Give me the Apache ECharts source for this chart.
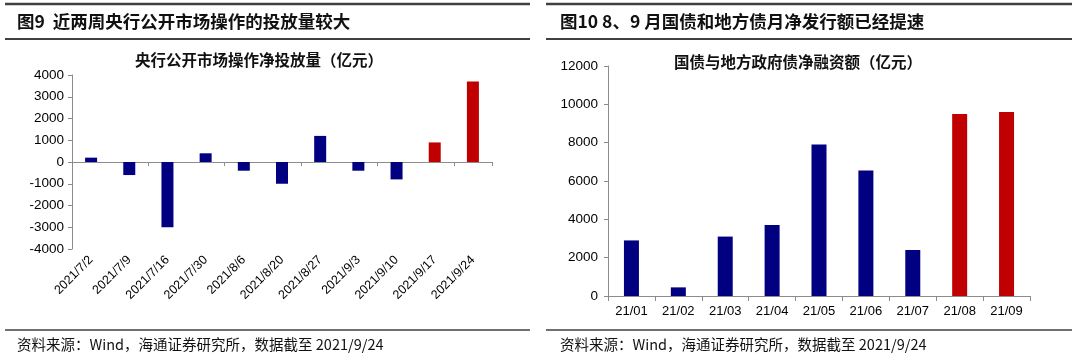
<!DOCTYPE html>
<html><head><meta charset="utf-8">
<script src="https://cdn.jsdelivr.net/npm/echarts@6/dist/echarts.min.js"></script>
<style>html,body{margin:0;padding:0;background:#fff}#c{width:1080px;height:357px}</style>
</head><body><div id="c"></div>
<script>
var leftCats = ['2021/7/2','2021/7/9','2021/7/16','2021/7/30','2021/8/6','2021/8/20','2021/8/27','2021/9/3','2021/9/10','2021/9/17','2021/9/24'];
var leftVals = [200,-600,-3000,400,-400,-1000,1200,-400,-800,900,3700];
var leftRed = [false,false,false,false,false,false,false,false,false,true,true];
var rightCats = ['21/01','21/02','21/03','21/04','21/05','21/06','21/07','21/08','21/09'];
var rightVals = [2900,450,3100,3700,7900,6550,2400,9500,9600];
var rightRed = [false,false,false,false,false,false,false,true,true];

var NAVY = '#000080', RED = '#C00000';
function colored(vals, red){ return vals.map(function(v,i){ return {value:v, itemStyle:{color: red[i]?RED:NAVY}}; }); }

var chart = echarts.init(document.getElementById('c'));
var axisC = '#8c8c8c';
var FF = 'Liberation Sans, Arial, sans-serif';
var titleFont = 'Noto Sans CJK SC';
function plain(v){ return String(v); }

function hline(x1,x2,y,w){ return {type:'line', shape:{x1:x1,y1:y,x2:x2,y2:y}, style:{stroke:'#404040', lineWidth:w}}; }
function txt(x,y,t,size,weight,align){ return {type:'text', x:x, y:y, style:{text:t, fontSize:size, fontWeight:weight||'normal', fontFamily:titleFont, fill:'#111', align:align||'left', verticalAlign:'middle'}}; }

chart.setOption({
  animation:false,
  graphic:[
    hline(5,530,4,2.5), hline(5,530,39,2), hline(5,530,330,1.5),
    hline(546,1072,4,2.5), hline(546,1072,39,2), hline(546,1072,330,1.5),
    txt(17,21,'图9  近两周央行公开市场操作的投放量较大',17.5,'bold'),
    txt(560,21,'图10 8、9 月国债和地方债月净发行额已经提速',17.5,'bold'),
    txt(259,60,'央行公开市场操作净投放量（亿元）',15.5,'bold','center'),
    txt(798,62,'国债与地方政府债净融资额（亿元）',15.5,'bold','center'),
    txt(17,344,'资料来源：Wind，海通证券研究所，数据截至 2021/9/24',14.5,'normal'),
    txt(560,344,'资料来源：Wind，海通证券研究所，数据截至 2021/9/24',14.5,'normal')
  ],
  grid:[
    {left:72, right:588, top:75, bottom:108},
    {left:608, right:50, top:66, bottom:61}
  ],
  xAxis:[
    {gridIndex:0, type:'category', data:leftCats, axisLine:{onZero:true, lineStyle:{color:axisC}}, axisTick:{show:true, lineStyle:{color:axisC}, length:4}, axisLabel:{show:false}},
    {gridIndex:0, type:'category', data:leftCats, position:'bottom', axisLine:{show:false, onZero:false}, axisTick:{show:false},
      axisLabel:{rotate:45, interval:0, margin:9, fontSize:12.5, color:'#000', fontFamily:FF}},
    {gridIndex:1, type:'category', data:rightCats, axisLine:{lineStyle:{color:axisC}}, axisTick:{show:true, lineStyle:{color:axisC}, length:5}, axisLabel:{interval:0, margin:9, fontSize:13, color:'#000', fontFamily:FF}}
  ],
  yAxis:[
    {gridIndex:0, type:'value', min:-4000, max:4000, interval:1000, splitLine:{show:false}, axisLine:{show:true, lineStyle:{color:axisC}}, axisTick:{show:true, length:4, lineStyle:{color:axisC}}, axisLabel:{margin:8, fontSize:13.5, color:'#000', fontFamily:FF, formatter:plain}},
    {gridIndex:1, type:'value', min:0, max:12000, interval:2000, splitLine:{show:false}, axisLine:{show:true, lineStyle:{color:axisC}}, axisTick:{show:true, length:4, lineStyle:{color:axisC}}, axisLabel:{margin:10, fontSize:13.5, color:'#000', fontFamily:FF, formatter:plain}}
  ],
  series:[
    {type:'bar', xAxisIndex:0, yAxisIndex:0, data:colored(leftVals,leftRed), barWidth:12},
    {type:'bar', xAxisIndex:2, yAxisIndex:1, data:colored(rightVals,rightRed), barWidth:15}
  ]
});
</script></body></html>
